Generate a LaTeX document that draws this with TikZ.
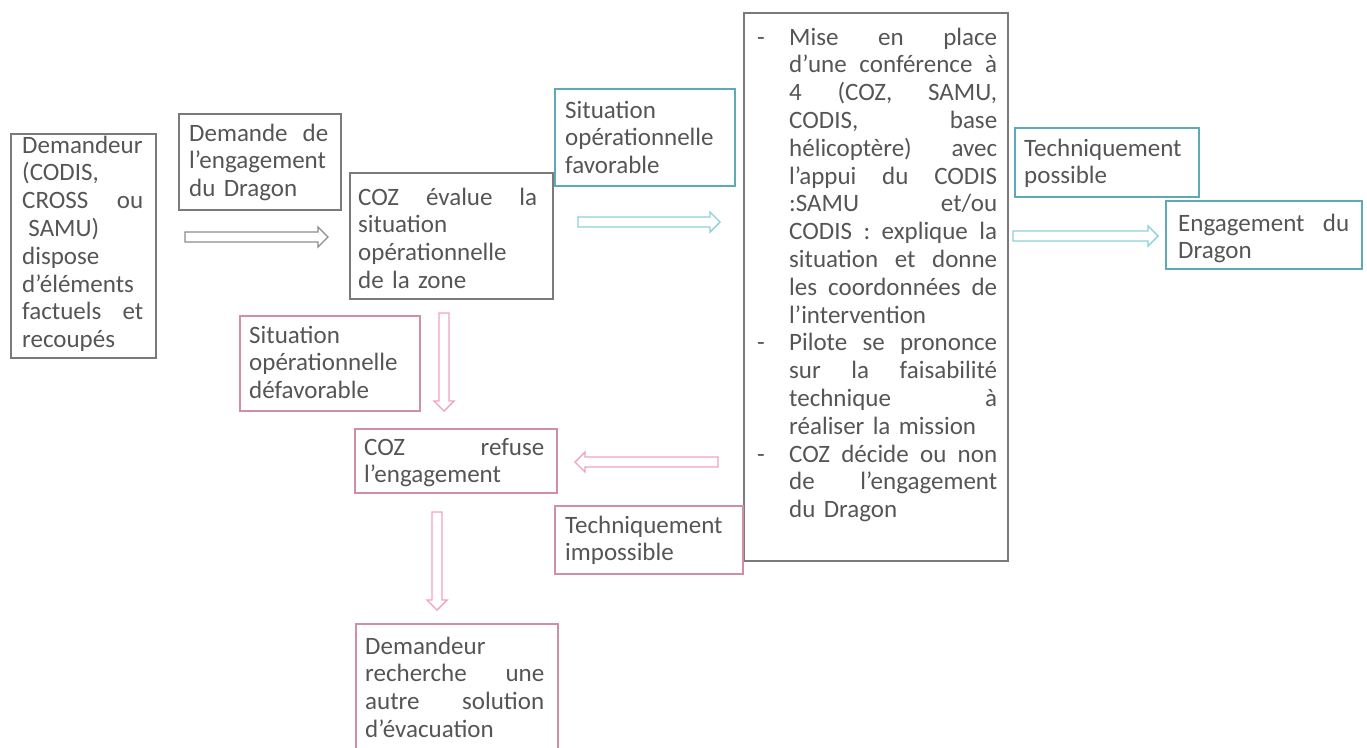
\documentclass[tikz,border=0pt]{standalone}
\usepackage{fontspec}
\setmainfont{Carlito}
\definecolor{txtgray}{HTML}{555555}
\definecolor{boxgray}{HTML}{7A7A7A}
\definecolor{arrgray}{HTML}{8C8C8C}
\definecolor{boxteal}{HTML}{5EA9B6}
\definecolor{arrteal}{HTML}{8ED0DC}
\definecolor{boxpink}{HTML}{CF8FA4}
\definecolor{arrpink}{HTML}{F2A3BC}
\tikzset{
  box/.style={draw, line width=1.6pt, inner sep=0pt, anchor=north west},
  gbox/.style={box, draw=boxgray},
  tbox/.style={box, draw=boxteal},
  pbox/.style={box, draw=boxpink},
  txt/.style={inner sep=0pt, anchor=base west, text=txtgray, align=left,
    text width=250pt, font=\fontsize{25}{27.8}\selectfont},
  harrow/.style={line width=1.4pt, fill=white},
  garrow/.style={harrow, draw=arrgray},
  tarrow/.style={harrow, draw=arrteal},
  parrow/.style={harrow, draw=arrpink},
  pics/hollowarrow/.style={code={
    \draw[pic actions] (0,-5) -- (#1-10,-5) -- (#1-10,-10) -- (#1,0)
      -- (#1-10,10) -- (#1-10,5) -- (0,5) -- cycle;
  }},
}
% justified line of given width
\newcommand{\jl}[2]{\makebox[#1][s]{\spaceskip=0pt\xspaceskip=0pt #2}}
\newcommand{\bul}{\makebox[32pt][l]{-}}
\newcommand{\ind}{\hspace*{32pt}}
\newcommand{\ej}[1]{\ind\jl{208pt}{#1}}
\begin{document}
\begin{tikzpicture}[x=1pt,y=-1pt]
\useasboundingbox (0,0) rectangle (1367,747);
% boxes
\node[gbox, minimum width=145pt, minimum height=224pt] (A) at (10,133) {};
\node[gbox, minimum width=162pt, minimum height=96pt] (B) at (178,113) {};
\node[gbox, minimum width=203pt, minimum height=126pt] (C) at (349,172) {};
\node[tbox, minimum width=180pt, minimum height=97pt] (D) at (554,88) {};
\node[gbox, minimum width=264pt, minimum height=548pt] (E) at (743,12) {};
\node[tbox, minimum width=184pt, minimum height=69pt] (F) at (1014,127) {};
\node[tbox, minimum width=196pt, minimum height=68pt] (G) at (1165,200) {};
\node[pbox, minimum width=180pt, minimum height=95pt] (H) at (239,315) {};
\node[pbox, minimum width=202pt, minimum height=64pt] (I) at (354,428) {};
\node[pbox, minimum width=188pt, minimum height=68pt] (J) at (554,505) {};
\node[pbox, minimum width=202pt, minimum height=128pt] (K) at (355,623) {};
% texts
\node[txt] (At) at (22,153) {Demandeur\\(CODIS,\\\jl{121pt}{CROSS ou}\\\hspace*{0.25em}SAMU)\\dispose\\d’éléments\\\jl{121pt}{factuels et}\\recoupés};
\node[txt] (Bt) at (189,141) {\jl{139pt}{Demande de}\\l’engagement\\du Dragon};
\node[txt] (Ct) at (358,205) {\jl{179pt}{COZ évalue la}\\situation\\opérationnelle\\de la zone};
\node[txt] (Dt) at (565,118) {Situation\\opérationnelle\\favorable};
\node[txt] (Et) at (757,45) {%
\bul\jl{208pt}{Mise en place}\\
\ej{d’une conférence à}\\
\ej{4 (COZ, SAMU,}\\
\ej{CODIS, base}\\
\ej{hélicoptère) avec}\\
\ej{l’appui du CODIS}\\
\ej{:SAMU et/ou}\\
\ej{CODIS : explique la}\\
\ej{situation et donne}\\
\ej{les coordonnées de}\\
\ind l’intervention\\
\bul\jl{208pt}{Pilote se prononce}\\
\ej{sur la faisabilité}\\
\ej{technique à}\\
\ind réaliser la mission\\
\bul\jl{208pt}{COZ décide ou non}\\
\ej{de l’engagement}\\
\ind du Dragon};
\node[txt] (Ft) at (1024,156) {Techniquement\\possible};
\node[txt] (Gt) at (1178,231) {\jl{171pt}{Engagement du}\\Dragon};
\node[txt] (Ht) at (249,343) {Situation\\opérationnelle\\défavorable};
\node[txt] (It) at (364,455) {\jl{180pt}{COZ refuse}\\l’engagement};
\node[txt] (Jt) at (565,533) {Techniquement\\impossible};
\node[txt] (Kt) at (365,654) {Demandeur\\\jl{179pt}{recherche une}\\\jl{179pt}{autre solution}\\d’évacuation};
% hollow block arrows
\pic[garrow] at (185,237) {hollowarrow=143};
\pic[tarrow] at (578,222) {hollowarrow=142};
\pic[tarrow] at (1013,236) {hollowarrow=145};
\pic[parrow, rotate=-90] at (444,313) {hollowarrow=98};
\pic[parrow, rotate=180] at (718,462) {hollowarrow=143};
\pic[parrow, rotate=-90] at (437,512) {hollowarrow=98};
\end{tikzpicture}
\end{document}
